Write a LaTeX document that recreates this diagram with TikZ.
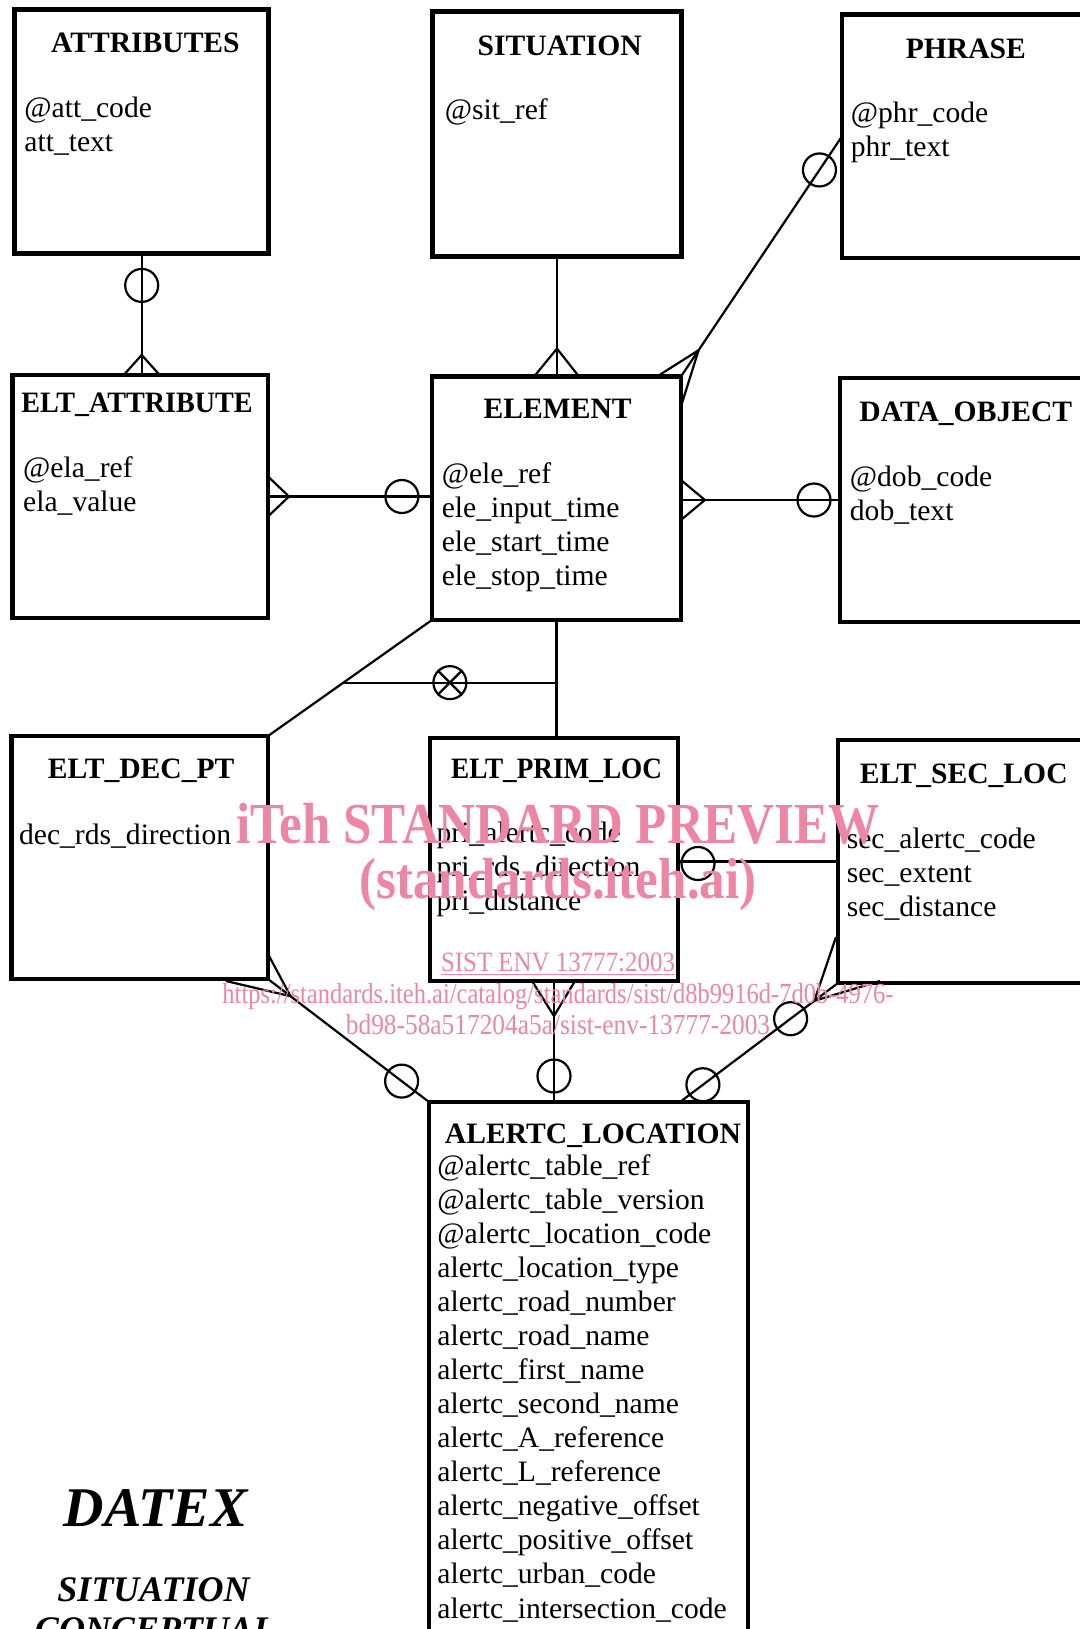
\documentclass[tikz,border=0pt]{standalone}
\usepackage{fontspec}
\setmainfont{Liberation Serif}
\usetikzlibrary{calc,positioning}
\definecolor{wmpink}{RGB}{236,134,164}

\begin{document}
\begin{tikzpicture}[
    x=0.5pt, y=-0.5pt,
    entity/.style={rectangle, draw, line width=2.3pt, minimum height=122pt, inner sep=0pt, outer sep=0pt},
    title/.style={font=\fontsize{14.8}{17}\selectfont\bfseries, inner sep=0pt, anchor=base},
    attrs/.style={font=\fontsize{14.8}{17.03}\selectfont, align=left, inner sep=0pt, anchor=base west},
    link/.style={line width=1.1pt},
    zero/.style={circle, draw, line width=1.1pt, minimum size=16.5pt, inner sep=0pt},
    caption/.style={font=\bfseries\itshape, inner sep=0pt, anchor=base},
    wmark/.style={text=wmpink, inner sep=0pt, anchor=base}
]
    \path[use as bounding box, fill=white] (0,0) rectangle (1080,1629);

    % Entities
    \node[entity, minimum width=127pt] (attr) at (141.7,131.4) {};
    \node[entity, minimum width=124.5pt, minimum height=122.5pt] (situ) at (557,133.8) {};
    \node[entity, minimum width=126.5pt, minimum height=121.7pt] (phrase) at (968.5,136.3) {};
    \node[entity, minimum width=127.7pt, minimum height=121.5pt] (eltatt) at (140.3,496.5) {};
    \node[entity, minimum width=124.5pt, minimum height=121.7pt] (elem) at (556.4,498.3) {};
    \node[entity, minimum width=127.5pt] (dobj) at (967.5,500) {};
    \node[entity, minimum width=128.3pt, minimum height=121.5pt] (dec) at (139.7,857.5) {};
    \node[entity, minimum width=124pt, minimum height=121.5pt] (prim) at (554,859.5) {};
    \node[entity, minimum width=128.5pt, minimum height=121.5pt] (sec) at (966.5,861.5) {};
    \node[entity, minimum width=159.5pt, minimum height=279pt] (alertc) at (588.5,1381) {};

    % Entity names
    \node[title] (attrT) at (145.4,52) {ATTRIBUTES};
    \node[title] (situT) at (559.7,55) {SITUATION};
    \node[title] (phraseT) at (965.8,58.2) {PHRASE};
    \node[title] (eltattT) at (137,412.3) {\scalebox{0.95}[1]{ELT\_ATTRIBUTE}};
    \node[title] (elemT) at (557.7,418.5) {ELEMENT};
    \node[title] (dobjT) at (965.8,421.6) {DATA\_OBJECT};
    \node[title] (decT) at (141.2,778.9) {ELT\_DEC\_PT};
    \node[title] (primT) at (556.6,778.9) {\scalebox{0.92}[1]{ELT\_PRIM\_LOC}};
    \node[title] (secT) at (963.7,783) {ELT\_SEC\_LOC};
    \node[title] (alertcT) at (593,1143.4) {ALERTC\_LOCATION};

    % Attributes (placed at the baseline of the last line)
    \node[attrs] (attrA) at (24,151.4) {@att\_code\\att\_text};
    \node[attrs] (situA) at (444.5,119.4) {@sit\_ref};
    \node[attrs] (phraseA) at (850.5,156.6) {@phr\_code\\phr\_text};
    \node[attrs] (eltattA) at (22.8,511.8) {@ela\_ref\\ela\_value};
    \node[attrs] (elemA) at (441.4,585.2) {@ele\_ref\\ele\_input\_time\\ele\_start\_time\\ele\_stop\_time};
    \node[attrs] (dobjA) at (849.5,520.1) {@dob\_code\\dob\_text};
    \node[attrs] (decA) at (18.7,844.3) {dec\_rds\_direction};
    \node[attrs] (primA) at (436.2,910.4) {pri\_alertc\_code\\pri\_rds\_direction\\pri\_distance};
    \node[attrs] (secA) at (846.4,916.7) {sec\_alertc\_code\\sec\_extent\\sec\_distance};
    \node[attrs] (alertcA) at (437,1618) {@alertc\_table\_ref\\@alertc\_table\_version\\@alertc\_location\_code\\alertc\_location\_type\\alertc\_road\_number\\alertc\_road\_name\\alertc\_first\_name\\alertc\_second\_name\\alertc\_A\_reference\\alertc\_L\_reference\\alertc\_negative\_offset\\alertc\_positive\_offset\\alertc\_urban\_code\\alertc\_intersection\_code};

    % ATTRIBUTES - ELT_ATTRIBUTE
    \coordinate (a1) at (attr.south |- eltatt.north);
    \draw[link] (attr.south) -- (a1);
    \node[zero] (a1o) at ($(attr.south)+(0,32)$) {};
    \draw[link] ($(a1)+(-18,0)$) -- ($(a1)+(0,-20)$) -- ($(a1)+(18,0)$);

    % SITUATION - ELEMENT
    \coordinate (s1) at (situ.south |- elem.north);
    \draw[link] (situ.south) -- (s1);
    \draw[link] ($(s1)+(-23,0)$) -- ($(s1)+(0,-28)$) -- ($(s1)+(22,0)$);

    % PHRASE - ELEMENT
    \draw[link] (phrase.west) -- (elem.north east);
    \coordinate (p1) at ($(elem.north east)!0.11!(phrase.west)$);
    \node[zero] (p1o) at ($(phrase.west)!0.14!(elem.north east)$) {};
    \draw[link] ($(elem.north east)+(-24,0)$) -- (p1) -- ($(elem.north east)+(0,30)$);

    % ELT_ATTRIBUTE - ELEMENT
    \coordinate (e1) at (eltatt.east -| elem.west);
    \draw[link] (eltatt.east) -- (e1);
    \draw[link] ($(eltatt.east)+(0,-20)$) -- ($(eltatt.east)+(21,0)$) -- ($(eltatt.east)+(0,20)$);
    \node[zero] (e1o) at ($(e1)+(-30,0)$) {};

    % ELEMENT - DATA_OBJECT
    \coordinate (d1) at (dobj.west -| elem.east);
    \draw[link] (d1) -- (dobj.west);
    \draw[link] ($(d1)+(0,-20)$) -- ($(d1)+(24,0)$) -- ($(d1)+(0,20)$);
    \node[zero] (d1o) at ($(dobj.west)+(-26,0)$) {};

    % ELEMENT - ELT_DEC_PT / ELT_PRIM_LOC
    \draw[link] (elem.south west) -- (dec.north east);
    \coordinate (m1) at (elem.south |- prim.north);
    \draw[link] (elem.south) -- (m1);
    \coordinate (x1) at ($(elem.south west)!0.54!(dec.north east)$);
    \coordinate (x2) at (x1 -| elem.south);
    \draw[link] (x1) -- (x2);
    \node[zero] (x1o) at ($(x1)!0.5!(x2)$) {};
    \draw[link] (x1o.north west) -- (x1o.south east) (x1o.north east) -- (x1o.south west);

    % ELT_PRIM_LOC - ELT_SEC_LOC
    \coordinate (r1) at (sec.west -| prim.east);
    \draw[link] (r1) -- (sec.west);
    \node[zero] (r1o) at ($(r1)+(20,2)$) {};

    % ELT_DEC_PT - ALERTC_LOCATION
    \draw[link] (dec.south east) -- (alertc.north west);
    \coordinate (t1) at ($(dec.south east)!0.14!(alertc.north west)$);
    \draw[link] ($(dec.south east)+(0,-25)$) -- (t1) -- ($(dec.south east)+(-42,2)$);
    \node[zero] (t1o) at ($(dec.south east)!0.83!(alertc.north west)$) {};

    % ELT_PRIM_LOC - ALERTC_LOCATION
    \coordinate (u1) at (prim.south |- alertc.north);
    \draw[link] (prim.south) -- (u1);
    \draw[link] ($(prim.south)+(-22,0)$) -- ($(prim.south)+(0,35)$) -- ($(prim.south)+(21,0)$);
    \node[zero] (u1o) at ($(u1)+(0,-26)$) {};

    % ELT_SEC_LOC - ALERTC_LOCATION
    \coordinate (v1) at ($(alertc.north west)+(251,0)$);
    \draw[link] (sec.south west) -- (v1);
    \coordinate (v2) at ($(sec.south west)!0.15!(v1)$);
    \draw[link] ($(sec.south west)+(-2,-46)$) -- (v2) -- ($(sec.south west)+(42,-2)$);
    \node[zero] (v1o) at ($(sec.south west)!0.3!(v1)$) {};
    \node[zero] (v2o) at ($(sec.south west)!0.855!(v1)$) {};

    % Caption
    \node[caption, font=\fontsize{28}{32}\selectfont\bfseries\itshape] (datex) at (155.8,1526.7) {DATEX};
    \node[caption, font=\fontsize{18}{20}\selectfont\bfseries\itshape] (capA) at (153.5,1601.7) {SITUATION};
    \node[caption, font=\fontsize{18}{20}\selectfont\bfseries\itshape] (capB) at (155,1641.6) {CONCEPTUAL};

    % Watermark
    \node[wmark, font=\fontsize{29}{32}\selectfont\bfseries] (wm1) at (558,843) {\scalebox{0.88}[1]{iTeh STANDARD PREVIEW}};
    \node[wmark, font=\fontsize{29}{32}\selectfont\bfseries] (wm2) at (558,898) {\scalebox{0.88}[1]{(standards.iteh.ai)}};
    \node[wmark, font=\fontsize{14}{16}\selectfont] (wm3) at (558,971) {\scalebox{0.89}[1]{\underline{SIST ENV 13777:2003}}};
    \node[wmark, font=\fontsize{14.5}{16}\selectfont] (wm4) at (558,1003) {\scalebox{0.845}[1]{https://standards.iteh.ai/catalog/standards/sist/d8b9916d-7d0b-4976-}};
    \node[wmark, font=\fontsize{14.5}{16}\selectfont] (wm5) at (558,1034) {\scalebox{0.875}[1]{bd98-58a517204a5a/sist-env-13777-2003}};
\end{tikzpicture}
\end{document}
